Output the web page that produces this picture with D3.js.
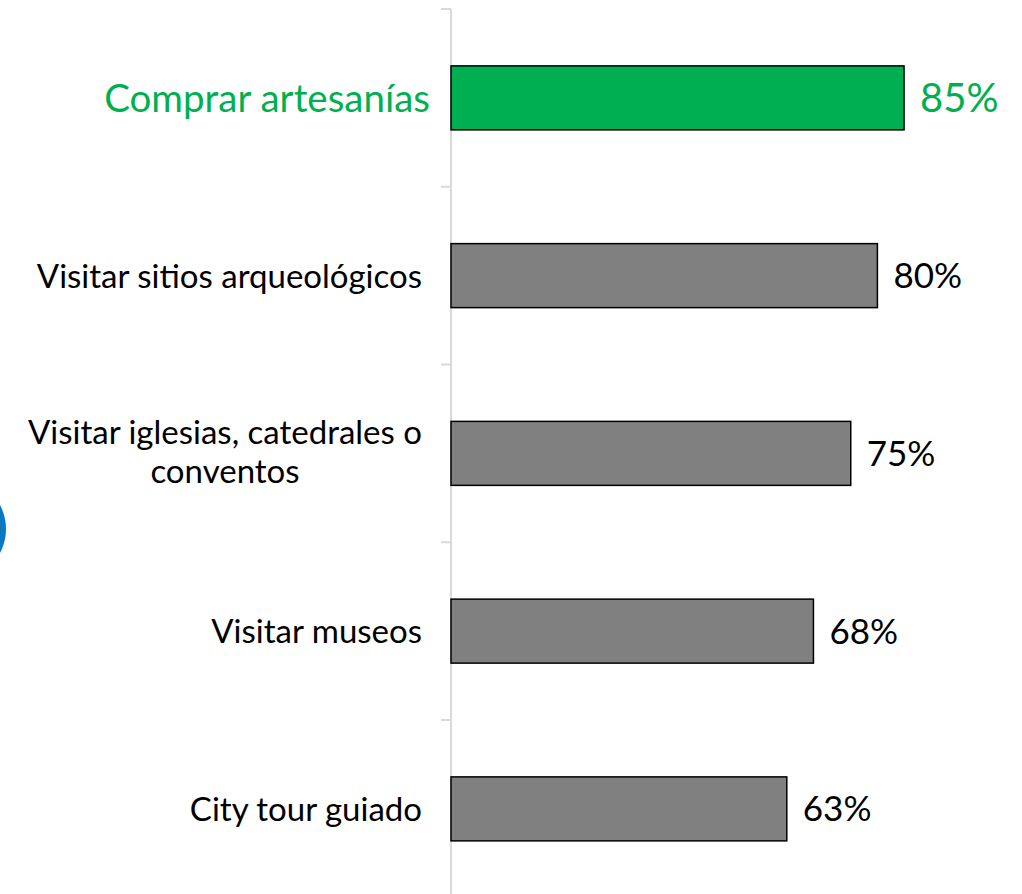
<!DOCTYPE html>
<html>
<head>
<meta charset="utf-8">
<script src="https://cdn.jsdelivr.net/npm/d3@7"></script>
<style>
  html, body { margin: 0; padding: 0; background: #fff; }
  svg { display: block; }
  text { font-family: Lato, "Open Sans", sans-serif; }
</style>
</head>
<body>
<svg id="chart" width="1022" height="894"></svg>
<script>
const categories = [
  ["Comprar artesanías"],
  ["Visitar sitios arqueológicos"],
  ["Visitar iglesias, catedrales o", "conventos"],
  ["Visitar museos"],
  ["City tour guiado"]
];
const values = [85, 80, 75, 68, 63];
const highlighted = [true, false, false, false, false];

const colors = { highlight: "#00b050", bar: "#808080", axis: "#d9d9d9", text: "#000000", accent: "#0b79c2" };

const svg = d3.select("#chart");
const axisX = 451;

const y = d3.scaleBand()
  .domain(d3.range(values.length))
  .range([9, 9 + 177.75 * values.length])
  .paddingInner(0.64)
  .paddingOuter(0.32);

const x = d3.scaleLinear().domain([0, 100]).range([axisX, 984]);

// decorative partial circle at left edge
svg.append("circle").attr("cx", -45).attr("cy", 529).attr("r", 51).attr("fill", colors.accent);

// category axis (left side ticks at band boundaries)
const boundaries = d3.range(values.length).map(i => y(i) - y.step() * y.paddingInner() / 2);
svg.append("line")
  .attr("x1", axisX).attr("x2", axisX)
  .attr("y1", 9).attr("y2", 894)
  .attr("stroke", colors.axis).attr("stroke-width", 2);
svg.selectAll(".tick")
  .data(boundaries)
  .join("line")
  .attr("class", "tick")
  .attr("x1", axisX - 10).attr("x2", axisX)
  .attr("y1", d => d).attr("y2", d => d)
  .attr("stroke", colors.axis).attr("stroke-width", 2);

// bars
svg.selectAll(".bar")
  .data(values)
  .join("rect")
  .attr("class", "bar")
  .attr("x", x(0))
  .attr("y", (d, i) => y(i))
  .attr("width", d => x(d) - x(0))
  .attr("height", y.bandwidth())
  .attr("fill", (d, i) => highlighted[i] ? colors.highlight : colors.bar)
  .attr("stroke", "#000")
  .attr("stroke-width", 1.5);

// value labels
svg.selectAll(".val")
  .data(values)
  .join("text")
  .attr("class", "val")
  .attr("x", d => x(d) + 16)
  .attr("y", (d, i) => y(i) + y.bandwidth() / 2)
  .attr("dy", "0.36em")
  .attr("font-size", (d, i) => highlighted[i] ? 40 : 35)
  .attr("fill", (d, i) => highlighted[i] ? colors.highlight : colors.text)
  .text(d => d + "%");

// category labels
const lineH = 39;
categories.forEach((lines, i) => {
  const cy = y(i) + y.bandwidth() / 2;
  const t = svg.append("text")
    .attr("text-anchor", "end")
    .attr("font-size", highlighted[i] ? 38.5 : 33)
    .attr("fill", highlighted[i] ? colors.highlight : colors.text);
  const x0 = highlighted[i] ? 430 : 422;
  lines.forEach((ln, j) => {
    t.append("tspan")
      .attr("x", x0)
      .attr("y", cy + (j - (lines.length - 1) / 2) * lineH - (lines.length > 1 ? 2 : 0))
      .attr("dy", "0.36em")
      .text(ln);
  });
});
// center continuation lines of multi-line labels under the first line
svg.selectAll("text").each(function () {
  const tsp = d3.select(this).selectAll("tspan");
  if (tsp.size() > 1) {
    const first = tsp.nodes()[0];
    const w0 = first.getComputedTextLength();
    const center = 422 - w0 / 2;
    tsp.filter((d, j) => j > 0).attr("text-anchor", "middle").attr("x", center);
  }
});
</script>
</body>
</html>
